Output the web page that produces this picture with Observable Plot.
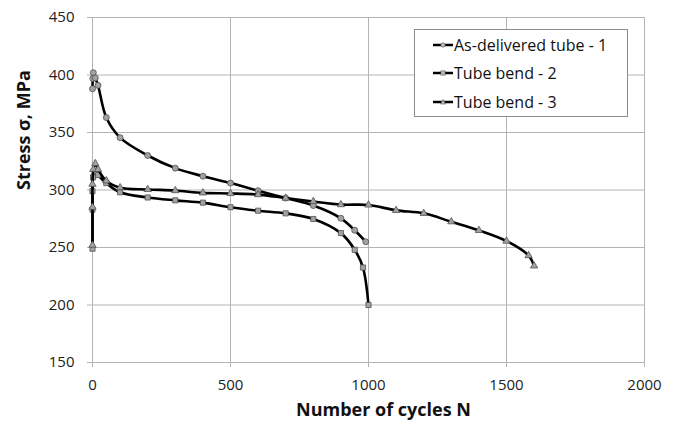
<!DOCTYPE html>
<html>
<head>
<meta charset="utf-8">
<script src="https://cdn.jsdelivr.net/npm/d3@7"></script>
<script src="https://cdn.jsdelivr.net/npm/@observablehq/plot@0.6"></script>
<style>
  body { margin: 0; background: white; }
  #wrap { position: relative; width: 675px; height: 432px; font-family: "Open Sans", sans-serif; }
  #legend { position: absolute; left: 414px; top: 29px; width: 212px; height: 86px; border: 1px solid #8c8c8c; background: white; }
  .row { position: absolute; left: 0; height: 20px; display: flex; align-items: center; font-size: 16px; color: #111; white-space: nowrap; }
  .row svg { margin-left: 18px; margin-right: 1px; }
</style>
</head>
<body>
<div id="wrap"></div>
<script>
// Series 1: As-delivered tube
const cycles1 = [0, 1, 3, 10, 20, 50, 100, 200, 300, 400, 500, 600, 700, 800, 900, 950, 990];
const stress1 = [388, 397, 402, 397.5, 391, 363, 345.5, 330, 319, 312, 306, 299.4, 293, 286.5, 275.4, 265, 255];
// Series 2: Tube bend - 2
const cycles2 = [0, 0, 0, 2, 10, 20, 50, 100, 200, 300, 400, 500, 600, 700, 800, 900, 950, 980, 1000];
const stress2 = [249, 283, 299, 311, 316, 313, 306, 298, 293.5, 291, 289, 285, 282, 279.7, 274.8, 262.5, 248, 232.6, 200];
// Series 3: Tube bend - 3
const cycles3 = [0, 0, 0, 3, 10, 20, 50, 100, 200, 300, 400, 500, 600, 700, 800, 900, 1000, 1100, 1200, 1300, 1400, 1500, 1580, 1600];
const stress3 = [252, 285, 305, 318, 323, 318, 308, 302, 300.5, 299.5, 297.5, 297, 296, 293, 290, 287.3, 287, 282.3, 279.7, 272.4, 264.9, 255.6, 243, 234];

const seriesNames = ["As-delivered tube - 1", "Tube bend - 2", "Tube bend - 3"];
const xTicks = [0, 500, 1000, 1500, 2000];
const yTicks = [150, 200, 250, 300, 350, 400, 450];
const xTitle = "Number of cycles N";
const yTitle = "Stress σ, MPa";

const toRows = (xs, ys) => xs.map((x, i) => ({x, y: ys[i]}));
const s1 = toRows(cycles1, stress1);
const s2 = toRows(cycles2, stress2);
const s3 = toRows(cycles3, stress3);

const gridColor = "#b4b4b4";
const dotFill = "#a2a2a2";
const dotStroke = "#505050";

const chart = Plot.plot({
  width: 675,
  height: 432,
  marginLeft: 92,
  marginRight: 31,
  marginTop: 17,
  marginBottom: 70,
  x: {domain: [0, 2000]},
  y: {domain: [150, 450]},
  style: {fontFamily: "Open Sans, sans-serif", fontSize: "15px", background: "white", color: "#222"},
  marks: [
    Plot.gridX(xTicks, {stroke: gridColor, strokeOpacity: 1}),
    Plot.gridY(yTicks, {stroke: gridColor, strokeOpacity: 1}),
    Plot.axisX(xTicks, {tickSize: 5, tickPadding: 12, stroke: gridColor, fill: "#222", label: null, fontSize: 15, tickFormat: d => String(d)}),
    Plot.axisY(yTicks, {tickSize: 5, tickPadding: 13, stroke: gridColor, fill: "#222", label: null, fontSize: 15, tickFormat: d => String(d)}),
    Plot.line(s1, {x: "x", y: "y", curve: "catmull-rom", stroke: "black", strokeWidth: 2.6}),
    Plot.dot(s1, {x: "x", y: "y", symbol: "circle", r: 3, fill: dotFill, stroke: dotStroke, strokeWidth: 0.8}),
    Plot.line(s2, {x: "x", y: "y", curve: "catmull-rom", stroke: "black", strokeWidth: 2.6}),
    Plot.dot(s2, {x: "x", y: "y", symbol: "square", r: 2.9, fill: dotFill, stroke: dotStroke, strokeWidth: 0.8}),
    Plot.line(s3, {x: "x", y: "y", curve: "catmull-rom", stroke: "black", strokeWidth: 2.6}),
    Plot.dot(s3, {x: "x", y: "y", symbol: "triangle", r: 2.7, fill: dotFill, stroke: dotStroke, strokeWidth: 0.8}),
    Plot.text([xTitle], {text: d => d, frameAnchor: "bottom", dy: 53, dx: 15, fontWeight: "bold", fontSize: 18, fill: "#111"}),
    Plot.text([yTitle], {text: d => d, frameAnchor: "left", dx: -68, rotate: -90, fontWeight: "bold", fontSize: 18, fill: "#111"})
  ]
});

const wrap = document.getElementById("wrap");
wrap.appendChild(chart);

// Legend
const legend = document.createElement("div");
legend.id = "legend";
const symbols = ["circle", "square", "triangle"];
const rowTops = [4.6, 33.3, 62];
seriesNames.forEach((name, i) => {
  const row = document.createElement("div");
  row.className = "row";
  row.style.top = rowTops[i] + "px";
  const sym = symbols[i];
  let marker;
  if (sym === "circle") marker = '<circle cx="10" cy="10" r="2.2" fill="#bdbdbd" stroke="#505050" stroke-width="0.6"/>';
  else if (sym === "square") marker = '<rect x="7.9" y="7.9" width="4.2" height="4.2" fill="#bdbdbd" stroke="#505050" stroke-width="0.6"/>';
  else marker = '<path d="M10,7.5L12.6,12L7.4,12Z" fill="#bdbdbd" stroke="#505050" stroke-width="0.6"/>';
  row.innerHTML = '<svg width="20" height="20"><line x1="0" y1="10" x2="20" y2="10" stroke="black" stroke-width="2.5"/>' + marker + '</svg><span>' + name + '</span>';
  legend.appendChild(row);
});
wrap.appendChild(legend);
</script>
</body>
</html>
